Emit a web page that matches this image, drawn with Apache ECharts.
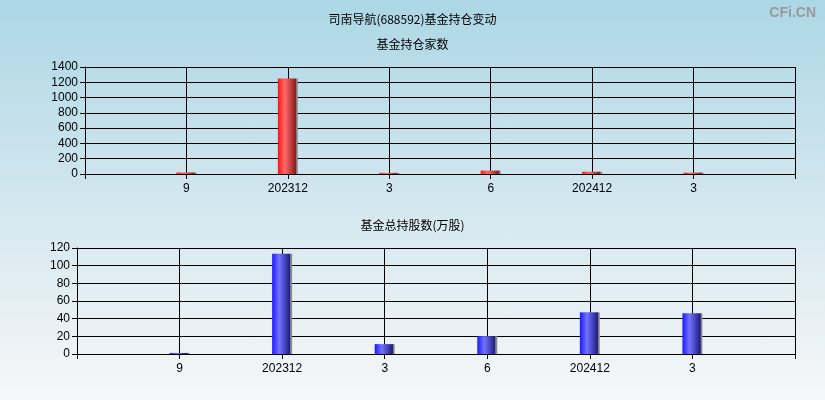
<!DOCTYPE html>
<html><head><meta charset="utf-8">
<script src="https://cdn.jsdelivr.net/npm/echarts@6/dist/echarts.min.js"></script>
<style>
html,body{margin:0;padding:0;}
#c{width:825px;height:400px;background:linear-gradient(to bottom,#acd7e5 0%,#cfe5ee 45%,#f6f7f8 100%);}
</style></head><body>
<div id="c"></div>
<script>
const categories = ['', '9', '202312', '3', '6', '202412', '3', ''];
const fundCount = [null, 20, 1250, 15, 45, 30, 18, null];
const fundShares = [null, 1.2, 113.5, 11.2, 20.2, 47.2, 46.1, null];
const topTicks = {min: 0, max: 1400, interval: 200};
const botTicks = {min: 0, max: 120, interval: 20};

const chart = echarts.init(document.getElementById('c'), null, {renderer: 'canvas'});
function grad(c0, c1, c2) {
  return new echarts.graphic.LinearGradient(0, 0, 1, 0, [
    {offset: 0, color: c0}, {offset: 0.35, color: c1}, {offset: 0.9, color: c2}, {offset: 0.91, color: '#777'}, {offset: 1, color: '#999'}
  ]);
}
const lbl = {color: '#000', fontSize: 12, fontFamily: 'Liberation Sans, Arial, sans-serif'};
function xAxis(gi) {
  return {
    type: 'category', gridIndex: gi, data: categories, boundaryGap: false,
    axisLine: {lineStyle: {color: '#000', width: 1}},
    axisTick: {show: true, interval: 0, length: 5, lineStyle: {color: '#000'}},
    axisLabel: Object.assign({interval: 0, margin: 9}, lbl),
    splitLine: {show: true, interval: 0, lineStyle: {color: '#000', width: 1}}
  };
}
function yAxis(gi, t) {
  return {
    type: 'value', gridIndex: gi, min: t.min, max: t.max, interval: t.interval,
    axisLine: {show: true, lineStyle: {color: '#000'}},
    axisTick: {show: true, length: 5, lineStyle: {color: '#000'}},
    axisLabel: Object.assign({margin: 7, formatter: v => String(v)}, lbl),
    splitLine: {show: true, lineStyle: {color: '#000', width: 1}}
  };
}
chart.setOption({
  backgroundColor: 'transparent',
  animation: false,
  title: [
    {text: '司南导航(688592)基金持仓变动', left: 'center', top: 8, textStyle: {fontSize: 12, fontWeight: 'normal', color: '#000', fontFamily: 'Noto Sans CJK SC'}},
    {text: '基金持仓家数', left: 'center', top: 33, textStyle: {fontSize: 12, fontWeight: 'normal', color: '#000', fontFamily: 'Noto Sans CJK SC'}},
    {text: '基金总持股数(万股)', left: 'center', top: 214, textStyle: {fontSize: 12, fontWeight: 'normal', color: '#000', fontFamily: 'Noto Sans CJK SC'}},
    {text: 'CFi.CN', right: 4, top: 1, textStyle: {fontSize: 14, fontWeight: 'bold', color: '#999', fontFamily: 'Liberation Sans, Arial'}}
  ],
  grid: [
    {left: 85, right: 30, top: 67, height: 107},
    {left: 77, right: 30, top: 248, height: 106}
  ],
  xAxis: [xAxis(0), xAxis(1)],
  yAxis: [yAxis(0, topTicks), yAxis(1, botTicks)],
  series: [
    {type: 'bar', xAxisIndex: 0, yAxisIndex: 0, data: fundCount, barWidth: 20,
     itemStyle: {color: grad('#ff1414', '#ff6a6a', '#8a1a1a')}},
    {type: 'bar', xAxisIndex: 1, yAxisIndex: 1, data: fundShares, barWidth: 20,
     itemStyle: {color: grad('#1a1aff', '#7272ff', '#1c1c80')}}
  ]
});
</script>
</body></html>
